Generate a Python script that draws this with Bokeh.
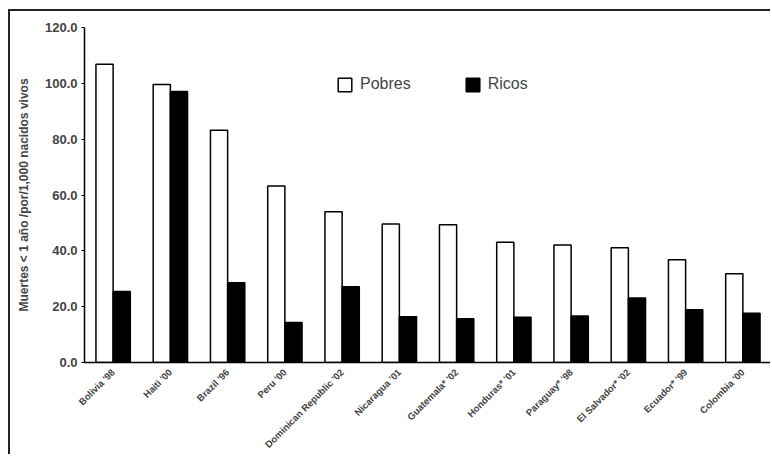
import math
from bokeh.plotting import figure
from bokeh.models import (FactorRange, Range1d, ColumnDataSource, Legend, LegendItem,
                          NumeralTickFormatter, FixedTicker)
from bokeh.transform import dodge
from bokeh.embed import file_html
from bokeh.resources import INLINE

categories = ["Bolivia '98", "Haiti '00", "Brazil '96", "Peru '00", "Dominican Republic '02",
              "Nicaragua '01", "Guatemala* '02", "Honduras* '01", "Paraguay* '98",
              "El Salvador* '02", "Ecuador* '99", "Colombia '00"]
pobres = [106.8, 99.6, 83.2, 63.2, 54.0, 49.6, 49.3, 43.1, 42.1, 41.1, 36.8, 31.8]
ricos = [25.4, 97.1, 28.6, 14.3, 27.1, 16.4, 15.7, 16.2, 16.7, 23.1, 18.9, 17.6]
y_ticks = [0, 20, 40, 60, 80, 100, 120]
y_label = "Muertes < 1 año /por/1,000 nacidos vivos"

src = ColumnDataSource(dict(cat=categories, pobres=pobres, ricos=ricos))

FONT = "Liberation Sans"

p = figure(width=762, height=445,
           x_range=FactorRange(factors=categories, range_padding=0),
           y_range=Range1d(0, 120),
           output_backend="svg", toolbar_location=None,
           min_border_left=74, min_border_right=1, min_border_top=16, min_border_bottom=93)

p.styles = {"margin-left": "8px", "margin-top": "9px",
            "border-left": "2px solid #222", "border-top": "2px solid #222"}

r1 = p.vbar(x=dodge('cat', -0.15, range=p.x_range), top='pobres', width=0.3, source=src,
            fill_color='white', line_color='black', line_width=1.5)
r2 = p.vbar(x=dodge('cat', 0.15, range=p.x_range), top='ricos', width=0.3, source=src,
            fill_color='black', line_color='black', line_width=1.5)

p.xgrid.visible = False
p.ygrid.visible = False
p.outline_line_color = None
p.background_fill_color = "white"

p.yaxis.ticker = FixedTicker(ticks=y_ticks)
p.yaxis.formatter = NumeralTickFormatter(format="0.0")
p.yaxis.minor_tick_line_color = None
p.yaxis.major_tick_out = 3
p.yaxis.major_tick_in = 0
p.yaxis.major_label_standoff = 4
p.yaxis.major_label_text_font = FONT
p.yaxis.major_label_text_font_style = "bold"
p.yaxis.major_label_text_font_size = "13px"
p.yaxis.axis_line_width = 1.5
p.yaxis.axis_label = y_label
p.yaxis.axis_label_text_font = FONT
p.yaxis.axis_label_text_font_style = "bold"
p.yaxis.axis_label_text_font_size = "12px"
p.yaxis.axis_label_standoff = 11

p.xaxis.major_tick_line_color = None
p.xaxis.minor_tick_line_color = None
p.xaxis.axis_line_width = 1.5
p.xaxis.major_label_orientation = math.pi / 4
p.xaxis.major_label_text_font = FONT
p.xaxis.major_label_text_font_style = "bold"
p.xaxis.major_label_text_font_size = "9.5px"
p.xaxis.major_label_standoff = 2

legend = Legend(items=[LegendItem(label="Pobres", renderers=[r1]),
                       LegendItem(label="Ricos", renderers=[r2])],
                location=(252, 269), orientation="horizontal",
                glyph_width=17, glyph_height=17, label_height=17,
                label_text_font=FONT, label_text_font_size="16px",
                spacing=53, padding=0, margin=0, label_standoff=7,
                border_line_alpha=0, background_fill_alpha=0)
p.add_layout(legend)

open("out.html", "w").write(file_html(p, INLINE))
